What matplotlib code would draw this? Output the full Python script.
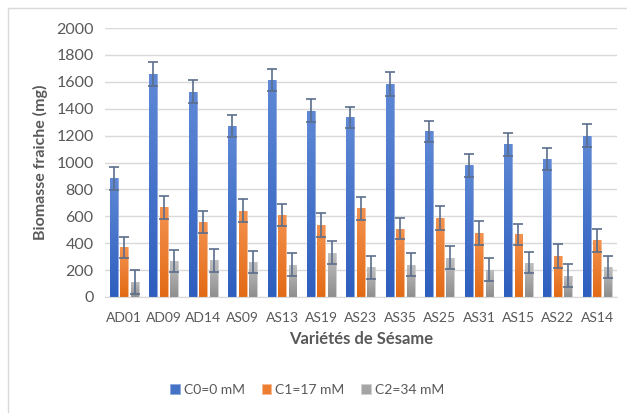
import numpy as np
import matplotlib.pyplot as plt
from matplotlib.patches import Rectangle
from matplotlib.colors import LinearSegmentedColormap

plt.rcParams['font.family'] = ['Lato', 'DejaVu Sans']

# Data
varietes = ["AD01", "AD09", "AD14", "AS09", "AS13", "AS19", "AS23",
            "AS35", "AS25", "AS31", "AS15", "AS22", "AS14"]
c0 = [882, 1655, 1526, 1272, 1612, 1386, 1336, 1582, 1232, 979, 1135, 1029, 1200]
c1 = [368, 666, 557, 641, 609, 534, 658, 509, 586, 477, 465, 306, 420]
c2 = [112, 268, 273, 261, 241, 330, 221, 241, 293, 204, 256, 159, 221]
err0 = [87, 89, 86, 85, 80, 87, 80, 90, 80, 84, 85, 81, 87]
err1 = [77, 87, 79, 84, 84, 87, 87, 80, 87, 87, 79, 89, 84]
err2 = [87, 82, 85, 82, 87, 85, 87, 87, 87, 87, 79, 87, 82]
series = ["C0=0 mM", "C1=17 mM", "C2=34 mM"]
colors = ["#4472C4", "#ED7D31", "#A5A5A5"]
# gradient (bottom, top) for each series, like the Excel fill
grads = [("#2E5EBE", "#5F89D6"), ("#E26A15", "#F4924F"), ("#8E8E8E", "#C0C0C0")]
edges = ["#8FAADC", "#F8BB90", "#D0D0D0"]

fig = plt.figure(figsize=(6.27, 4.13), dpi=100)
ax = fig.add_axes([0.167, 0.281, 0.817, 0.651])

# chart border like the Excel frame
fig.patches.append(Rectangle((0.013, -0.01), 1.0, 0.99, transform=fig.transFigure,
                             fill=False, edgecolor="#D9D9D9", lw=1))

x = np.arange(len(varietes))
w = 0.2
step = 0.265
grad = np.linspace(0, 1, 100).reshape(-1, 1)
for i, (vals, errs) in enumerate(zip([c0, c1, c2], [err0, err1, err2])):
    bars = ax.bar(x + (i - 1) * step, vals, w, color=colors[i], label=series[i],
                  edgecolor=edges[i], lw=0.6, zorder=2)
    cmap = LinearSegmentedColormap.from_list("g%d" % i, grads[i])
    for b in bars:
        x0, y0 = b.get_x(), b.get_y()
        im = ax.imshow(grad, cmap=cmap, origin="lower", aspect="auto",
                       extent=(x0, x0 + b.get_width(), y0, y0 + b.get_height()),
                       zorder=2.1)
        im.set_clip_path(b)
    ax.errorbar(x + (i - 1) * step, vals, yerr=errs, fmt="none", ecolor="#5B6E8C",
                elinewidth=1.2, capsize=3.5, capthick=1.2, zorder=3)

ax.set_xlim(-0.5, len(varietes) - 0.5)
ax.set_ylim(0, 2000)
ax.set_yticks(np.arange(0, 2001, 200))
ax.set_xticks(x)
ax.set_xticklabels(varietes)
ax.tick_params(length=0, labelcolor="#595959")
ax.tick_params(axis="x", labelsize=10, pad=11)
ax.tick_params(axis="y", labelsize=11.5, pad=8)
ax.yaxis.grid(True, color="#D9D9D9", lw=1, zorder=0)
for s in ["top", "right", "left"]:
    ax.spines[s].set_visible(False)
ax.spines["bottom"].set_color("#D9D9D9")

ax.set_ylabel("Biomasse fraiche (mg)", fontsize=11.5, fontweight="bold", color="#595959",
              labelpad=6)
ax.set_xlabel("Variétés de Sésame", fontsize=12, fontweight="bold", color="#595959",
              labelpad=5)

fig.legend(loc="center", bbox_to_anchor=(0.49, 0.056), ncol=3, frameon=False,
           fontsize=10, labelcolor="#595959", handlelength=0.7, handleheight=0.7,
           columnspacing=1.2, handletextpad=0.3)

fig.savefig("out.png", dpi=100)
